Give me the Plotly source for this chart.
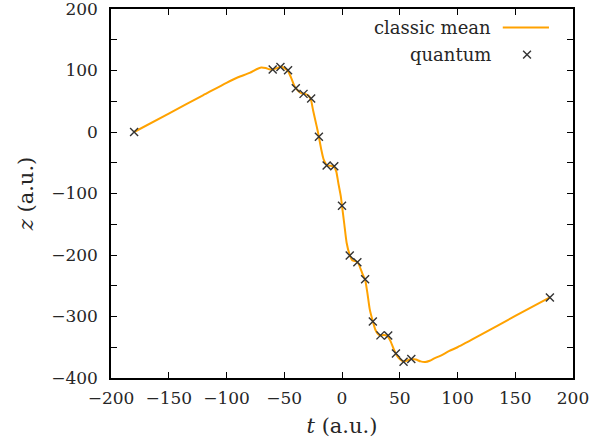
import plotly.graph_objects as go

# quantum data points
quantum_t = [-180, -60, -53.3, -46.7, -40, -33.3, -26.7, -20, -13.3, -6.7, 0,
             6.7, 13.3, 20, 26.7, 33.3, 40, 46.7, 53.3, 60, 180]
quantum_z = [0, 101.5, 105.8, 100.5, 71.3, 62, 54.5, -7.6, -54.6, -55.7, -120,
             -201, -211.8, -239.4, -308, -330.7, -331, -360, -373.4, -369, -269]

# classic mean curve
classic_t = [-180, -150, -120, -100, -90, -80, -74, -70, -66, -63, -60, -56, -53, -50,
             -47, -44, -41, -38, -35, -32, -29, -27, -25, -22, -20, -18, -16, -13,
             -10, -7, -5, -3, -1, 0, 2, 4, 6.7, 9, 12, 14, 16, 18, 20, 22, 24, 26.7,
             29, 31, 33.3, 36, 39, 42, 45, 47, 50, 53, 56, 60, 64, 68, 72, 76, 80,
             85, 93, 100, 120, 150, 180]
classic_z = [0, 30, 60, 80, 89, 96, 102, 105, 104, 102, 101.5, 104, 106, 104,
             100, 88, 74, 67, 63, 62, 59, 53, 35, 10, -8, -28, -44, -54,
             -55, -56, -64, -85, -105, -120, -150, -180, -200, -209, -210, -213, -222, -232, -240, -262, -288, -308,
             -322, -328, -331, -330, -331, -340, -354, -362, -369, -373, -372, -369, -370, -373, -374, -372, -368,
             -364, -356, -350, -330, -299, -269]

x_ticks = [-200, -150, -100, -50, 0, 50, 100, 150, 200]
x_labels = ["−200", "−150", "−100", "−50", "0", "50", "100", "150", "200"]
y_ticks = [200, 150, 100, 50, 0, -50, -100, -150, -200, -250, -300, -350, -400]
y_labels = ["200", "", "100", "", "0", "", "−100", "", "−200", "", "−300", "", "−400"]

FONT = "DejaVu Serif"
TXT = "#262626"

fig = go.Figure()
fig.add_trace(go.Scatter(x=classic_t, y=classic_z, mode="lines",
                         line=dict(color="#FFA200", width=2, shape="spline", smoothing=0.6),
                         name="classic mean", showlegend=False, hoverinfo="skip"))
fig.add_trace(go.Scatter(x=quantum_t, y=quantum_z, mode="markers",
                         marker=dict(symbol="x-thin", size=8, line=dict(width=1.4, color="#333333")),
                         name="quantum", showlegend=False, hoverinfo="skip"))

axis_common = dict(showline=True, linecolor="black", linewidth=1.5, mirror="allticks",
                   ticks="inside", ticklen=6, tickwidth=1, tickcolor="black",
                   showgrid=False, zeroline=False, automargin=False,
                   ticklabeloverflow="allow",
                   tickfont=dict(family=FONT, size=17, color=TXT))

fig.update_xaxes(range=[-200, 200], tickvals=x_ticks, ticktext=x_labels,
                 title=dict(text="<i>t</i> (a.u.)", font=dict(family=FONT, size=21, color=TXT), standoff=11),
                 ticklabelstandoff=4, **axis_common)
fig.update_yaxes(range=[-400.01, 200.01], tickvals=y_ticks, ticktext=y_labels,
                 title=dict(text="<i>z</i> (a.u.)", font=dict(family=FONT, size=21, color=TXT), standoff=12),
                 ticklabelstandoff=8, **axis_common)

# legend drawn manually (text left of sample)
fig.add_annotation(xref="paper", yref="paper", x=0.826, y=0.951, xanchor="right", yanchor="middle",
                   align="right", text="classic mean", showarrow=False,
                   font=dict(family=FONT, size=18, color=TXT))
fig.add_annotation(xref="paper", yref="paper", x=0.826, y=0.878, xanchor="right", yanchor="middle",
                   align="right", text="quantum", showarrow=False,
                   font=dict(family=FONT, size=18, color=TXT))
fig.add_shape(type="line", xref="paper", yref="paper", x0=0.848, x1=0.948, y0=0.95, y1=0.95,
              line=dict(color="#FFA200", width=2))
cx, cy, dx, dy = 0.9005, 0.8765, 0.0085, 0.0105
fig.add_shape(type="line", xref="paper", yref="paper", x0=cx - dx, x1=cx + dx, y0=cy - dy, y1=cy + dy,
              line=dict(color="#333333", width=1.4))
fig.add_shape(type="line", xref="paper", yref="paper", x0=cx - dx, x1=cx + dx, y0=cy + dy, y1=cy - dy,
              line=dict(color="#333333", width=1.4))

fig.update_layout(width=611, height=446, margin=dict(l=111, r=38, t=9, b=68),
                  plot_bgcolor="white", paper_bgcolor="white", showlegend=False)

fig.write_html("out.html", config={"displayModeBar": False},
               post_script="document.body.style.margin='0';")
